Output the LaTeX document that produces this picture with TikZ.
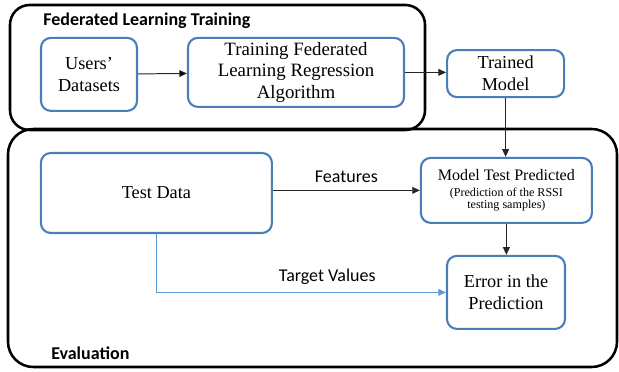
\documentclass[tikz,border=0pt]{standalone}
\usepackage{fontspec}
\setmainfont{Liberation Serif}
\newfontfamily\calibri{Carlito}
\usetikzlibrary{arrows.meta}
\definecolor{boxblue}{RGB}{74,126,187}
\definecolor{lineblue}{RGB}{91,155,213}

\begin{document}
\begin{tikzpicture}
      \tikzset{block/.style={draw=boxblue, line width=1.5pt, rounded corners=7pt, align=center, inner sep=1pt, font=\fontsize{13}{15.5}\selectfont},
               group/.style={draw=black, line width=1.8pt, inner sep=0pt},
               title/.style={anchor=base west, inner sep=0pt, font=\calibri\bfseries\fontsize{12.8}{15}\selectfont},
               tag/.style={anchor=base, inner sep=0pt, font=\calibri\fontsize{12.8}{15}\selectfont},
               flow/.style={draw=black!85, line width=0.7pt, -{Triangle[length=1.9mm,width=1.7mm]}}}
      \useasboundingbox (0,0) rectangle (15.475,9.3);
%% Groups
      	\node[group, rounded corners=18pt, minimum width=15.225cm, minimum height=5.95cm] (eval) at (7.8125,3.1) {};
      	\node[group, rounded corners=14pt, minimum width=10.375cm, minimum height=3.125cm] (flt) at (5.4375,7.6125) {};
      	\node[title] (flttitle) at (1.075,8.66) {Federated Learning Training};
      	\node[title] (evaltitle) at (1.275,0.32) {Evaluation};
%% Blocks
	%training
      	\node[block, minimum width=2.4cm, minimum height=1.825cm] (users) at (2.225,7.44) {Users’\\Datasets};
      	\node[block, minimum width=5.4cm, minimum height=1.725cm, font=\fontsize{13.4}{15.5}\selectfont] (train) at (7.4,7.49) {Training Federated\\Learning Regression\\Algorithm};
      	\node[block, minimum width=2.925cm, minimum height=1.175cm] (trained) at (12.64,7.46) {Trained\\Model};
	%evaluation
      	\node[block, minimum width=5.775cm, minimum height=2cm] (test) at (3.91,4.475) {Test Data};
      	\node[block, minimum width=4.275cm, minimum height=1.625cm, font=\fontsize{8.6}{9.2}\selectfont] (mtp) at (12.66,4.54)
      		{{\fontsize{11.4}{14}\selectfont Model Test Predicted}\\[2pt](Prediction of the RSSI\\testing samples)};
      	\node[block, minimum width=2.95cm, minimum height=1.825cm] (error) at (12.65,1.99) {Error in the\\Prediction};
%% Connectors
		\path [flow] (users) edge (train);
		\draw [flow] (train.east) -- (train.east -| trained.west);
		\draw [flow] (trained) -- (trained |- mtp.north);
		\draw [flow] (mtp.west -| test.east) -- node[tag, midway, yshift=5.5pt] {Features} (mtp.west);
		\draw [flow] (mtp) -- (mtp |- error.north);
		\draw [flow, draw=lineblue] (test.south) |- node[tag, pos=0.795, yshift=8pt, text=black] {Target Values} (error.west);

\end{tikzpicture}
\end{document}
